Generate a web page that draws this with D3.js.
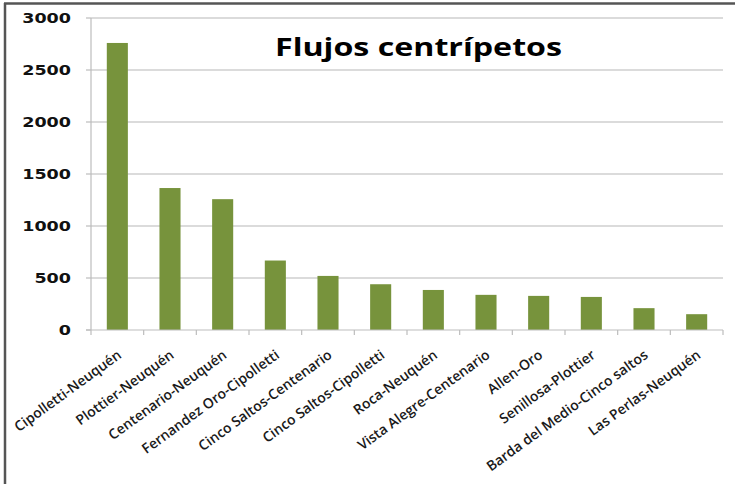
<!DOCTYPE html>
<html>
<head>
<meta charset="utf-8">
<script src="https://cdn.jsdelivr.net/npm/d3@7"></script>
<style>
  html, body { margin: 0; padding: 0; background: #fff; }
  svg { display: block; }
</style>
</head>
<body>
<svg id="chart" width="735" height="484"></svg>
<script>
// Commuter flows towards the main city (Flujos centrípetos)
const categories = [
  "Cipolletti-Neuquén",
  "Plottier-Neuquén",
  "Centenario-Neuquén",
  "Fernandez Oro-Cipolletti",
  "Cinco Saltos-Centenario",
  "Cinco Saltos-Cipolletti",
  "Roca-Neuquén",
  "Vista Alegre-Centenario",
  "Allen-Oro",
  "Senillosa-Plottier",
  "Barda del Medio-Cinco saltos",
  "Las Perlas-Neuquén"
];
const values = [2760, 1365, 1258, 668, 520, 440, 385, 338, 328, 318, 210, 152];
const yTicks = [0, 500, 1000, 1500, 2000, 2500, 3000];
const title = "Flujos centrípetos";

const svg = d3.select("#chart");
const W = 735, H = 484;
const plot = { left: 91, right: 723, top: 18, bottom: 330 };

// outer frame (top and left edges)
svg.append("line").attr("x1", 4).attr("x2", W).attr("y1", 3.5).attr("y2", 3.5)
  .attr("stroke", "#555").attr("stroke-width", 2.5);
svg.append("line").attr("x1", 5).attr("x2", 5).attr("y1", 3).attr("y2", H)
  .attr("stroke", "#555").attr("stroke-width", 2.5);

const x = d3.scaleBand().domain(categories).range([plot.left, plot.right]).paddingInner(0.6).paddingOuter(0.3);
const xb = d3.scaleBand().domain(categories).range([plot.left, plot.right]);
const y = d3.scaleLinear().domain([0, 3000]).range([plot.bottom, plot.top]);

// horizontal gridlines
svg.append("g").selectAll("line").data(yTicks.filter(d => d > 0)).join("line")
  .attr("x1", plot.left).attr("x2", plot.right)
  .attr("y1", d => y(d)).attr("y2", d => y(d))
  .attr("stroke", "#cfcfcf").attr("stroke-width", 1.6);

// value axis line and ticks
svg.append("line").attr("x1", plot.left).attr("x2", plot.left)
  .attr("y1", plot.top).attr("y2", plot.bottom).attr("stroke", "#bdbdbd").attr("stroke-width", 1.2);
svg.append("g").selectAll("line").data(yTicks).join("line")
  .attr("x1", plot.left - 5).attr("x2", plot.left)
  .attr("y1", d => y(d)).attr("y2", d => y(d))
  .attr("stroke", "#bdbdbd").attr("stroke-width", 1.2);

// y tick labels (wide bold digits)
svg.append("g").selectAll("text").data(yTicks).join("text")
  .attr("transform", d => `translate(71,${y(d) + 5}) scale(1.3,1)`)
  .attr("text-anchor", "end")
  .attr("font-family", "DejaVu Sans")
  .attr("font-weight", "bold")
  .attr("font-size", 13.5)
  .attr("fill", "#111")
  .text(d => d);

// bars
svg.append("g").selectAll("rect").data(values).join("rect")
  .attr("x", (d, i) => x(categories[i]))
  .attr("width", x.bandwidth())
  .attr("y", d => y(d))
  .attr("height", d => y(0) - y(d))
  .attr("fill", "#77933c");

// category axis line and ticks between bars
svg.append("line").attr("x1", plot.left - 5).attr("x2", plot.right)
  .attr("y1", plot.bottom).attr("y2", plot.bottom).attr("stroke", "#bdbdbd").attr("stroke-width", 1.2);
const bounds = categories.map(c => xb(c)).concat([plot.right]);
svg.append("g").selectAll("line").data(bounds).join("line")
  .attr("x1", d => d).attr("x2", d => d)
  .attr("y1", plot.bottom).attr("y2", plot.bottom + 5)
  .attr("stroke", "#bdbdbd").attr("stroke-width", 1.2);

// rotated category labels
svg.append("g").selectAll("text").data(categories).join("text")
  .attr("transform", d => `translate(${x(d) + x.bandwidth() / 2 + 5},${plot.bottom + 27}) rotate(-36)`)
  .attr("text-anchor", "end")
  .attr("font-family", "Open Sans")
  .attr("font-weight", 600)
  .attr("font-size", 14)
  .attr("fill", "#1a1a1a")
  .text(d => d);

// title
svg.append("text")
  .attr("x", 275).attr("y", 56)
  .attr("font-family", "Open Sans")
  .attr("font-weight", "bold")
  .attr("font-size", 25)
  .attr("fill", "#000")
  .attr("textLength", 287)
  .attr("lengthAdjust", "spacingAndGlyphs")
  .text(title);
</script>
</body>
</html>
